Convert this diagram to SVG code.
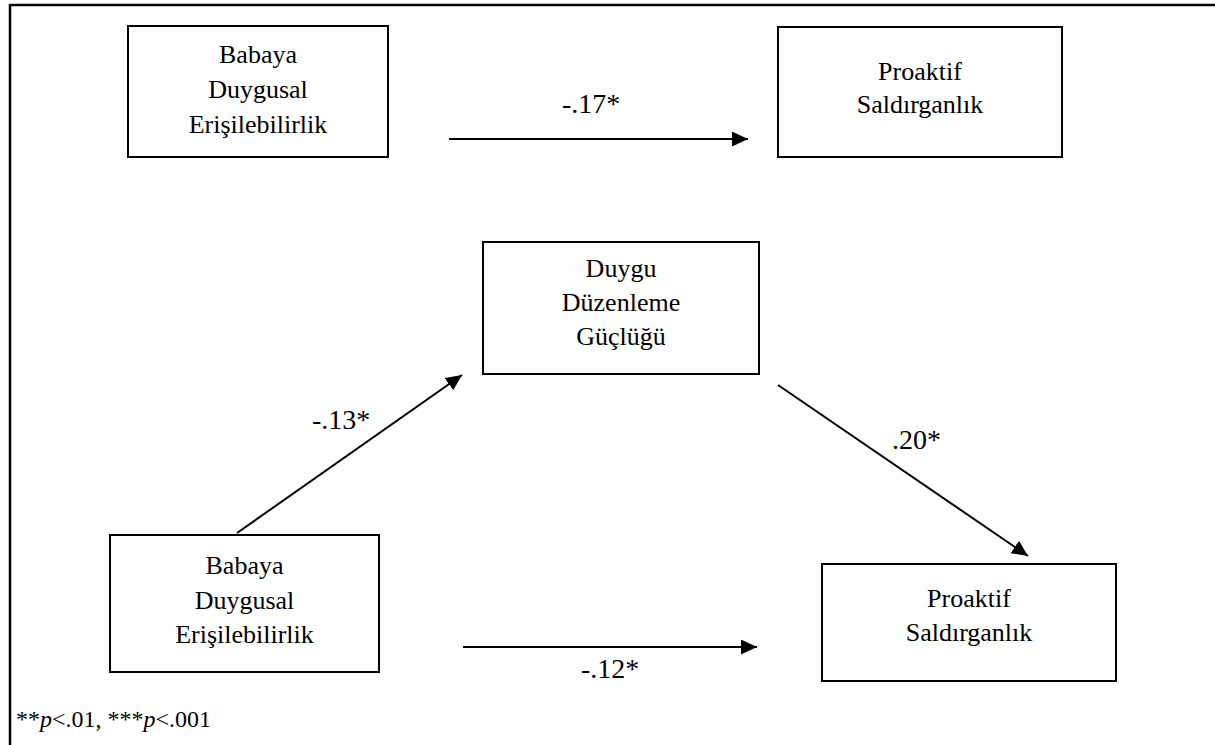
<svg xmlns="http://www.w3.org/2000/svg" width="1215" height="745" viewBox="0 0 1215 745">
<style>
.box{fill:#fff;stroke:#000;stroke-width:2}
.t{font-family:"Liberation Serif","Times New Roman",serif;font-size:26px;fill:#000;text-anchor:middle}
.lbl{font-family:"Liberation Serif","Times New Roman",serif;font-size:28px;fill:#000}
.conn{stroke:#000;stroke-width:2;fill:none;marker-end:url(#ah)}
.note{font-family:"Liberation Serif","Times New Roman",serif;font-size:24px;fill:#000}
</style>
<defs>
<marker id="ah" markerUnits="userSpaceOnUse" markerWidth="18" markerHeight="16" refX="16" refY="7.5" orient="auto">
<path d="M0,0 L16,7.5 L0,15 z" fill="#000"/>
</marker>
</defs>
<rect width="1215" height="745" fill="#fff"/>
<g id="frame" stroke="#000" stroke-width="2.5">
<line x1="10" y1="5" x2="1215" y2="5"/>
<line x1="10" y1="4" x2="10" y2="745"/>
</g>
<g id="connectors">
<line class="conn" x1="449" y1="139" x2="748" y2="139"/>
<line class="conn" x1="237" y1="533" x2="462" y2="375"/>
<line class="conn" x1="778" y1="385" x2="1028" y2="556"/>
<line class="conn" x1="463" y1="647" x2="757" y2="647"/>
<text class="lbl" x="562" y="113">-.17*</text>
<text class="lbl" x="312" y="429">-.13*</text>
<text class="lbl" x="892" y="449">.20*</text>
<text class="lbl" x="581" y="678">-.12*</text>
</g>
<g id="n1">
<rect class="box" x="128" y="26" width="260" height="131"/>
<text class="t" x="258" y="63">Babaya</text>
<text class="t" x="258" y="98">Duygusal</text>
<text class="t" x="258" y="133">Erişilebilirlik</text>
</g>
<g id="n2">
<rect class="box" x="778" y="27" width="284" height="130"/>
<text class="t" x="920" y="80">Proaktif</text>
<text class="t" x="920" y="113">Saldırganlık</text>
</g>
<g id="n3">
<rect class="box" x="483" y="242" width="276" height="132"/>
<text class="t" x="621" y="277">Duygu</text>
<text class="t" x="621" y="311">Düzenleme</text>
<text class="t" x="621" y="345">Güçlüğü</text>
</g>
<g id="n4">
<rect class="box" x="110" y="535" width="269" height="137"/>
<text class="t" x="244.5" y="574">Babaya</text>
<text class="t" x="244.5" y="609">Duygusal</text>
<text class="t" x="244.5" y="643">Erişilebilirlik</text>
</g>
<g id="n5">
<rect class="box" x="822" y="564" width="294" height="117"/>
<text class="t" x="969" y="607">Proaktif</text>
<text class="t" x="969" y="641">Saldırganlık</text>
</g>
<text class="note" x="16" y="727">**<tspan font-style="italic">p</tspan>&lt;.01, ***<tspan font-style="italic">p</tspan>&lt;.001</text>
</svg>
